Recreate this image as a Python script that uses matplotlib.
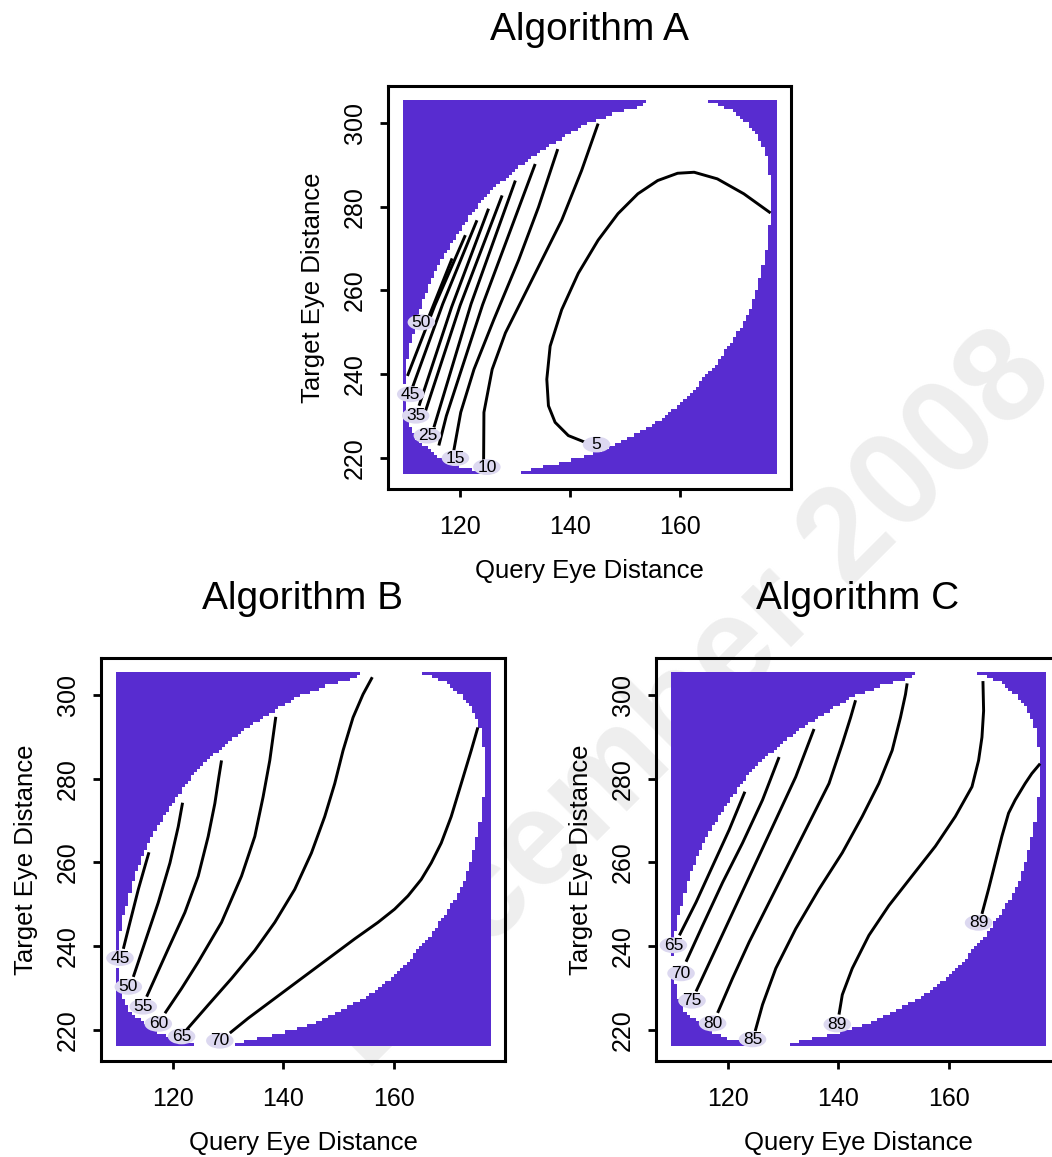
import numpy as np
import matplotlib
matplotlib.use("Agg")
import matplotlib.pyplot as plt
from matplotlib.colors import ListedColormap
from matplotlib.patches import Ellipse
from matplotlib.path import Path

plt.rcParams['font.family'] = ['Liberation Sans', 'DejaVu Sans']

PURPLE = '#582cd0'
LABEL_BG = '#dcd8f0'

# range of the fitted surface (same grid for all three algorithms)
x_range = [109.6, 177.5]
y_range = [216.1, 305.3]

# outline of the region that has data (drawn white)
region_x = [164.4, 154.1, 152.3, 148.1, 143.3, 139.6, 136.0, 132.4, 128.8, 125.1,
            122.1, 119.7, 117.3, 115.5, 113.7, 112.4, 111.5, 110.3, 109.7, 109.5,
            110.0, 110.6, 111.8, 113.7, 116.1, 119.1, 122.7, 125.7, 130.0, 133.0,
            137.8, 142.1, 146.9, 151.7, 156.0, 159.6, 163.2, 166.8, 169.8, 172.3,
            174.1, 175.3, 176.1, 176.6, 176.6, 175.9, 174.7, 172.3, 169.8, 166.8]
region_y = [305.8, 305.8, 303.7, 302.5, 300.2, 297.4, 294.6, 291.5, 287.5, 283.6,
            278.8, 274.1, 269.4, 264.6, 259.9, 255.2, 250.4, 244.9, 239.4, 235.4,
            231.5, 227.5, 224.3, 222.0, 219.6, 217.9, 216.4, 215.6, 215.6, 217.1,
            218.4, 219.6, 222.0, 225.1, 228.3, 232.2, 237.0, 242.5, 248.0, 253.6,
            259.9, 266.2, 272.5, 278.8, 285.2, 291.5, 296.2, 300.2, 302.9, 304.5]

# contour lines: level -> (x values, y values)
lines_a = {
    50: ([113.9, 114.34, 118.55], [252.4, 253.81, 267.66]),
    45: ([110.42, 115.4, 120.96], [239.56, 256.39, 273.21]),
    40: ([111.33, 116.85, 123.07], [236.79, 256.78, 276.77]),
    35: ([112.53, 118.45, 125.18], [232.43, 255.99, 279.54]),
    30: ([113.43, 120.0, 127.65], [230.06, 256.39, 282.71]),
    25: ([115.24, 122.0, 130.06], [227.28, 256.78, 286.27]),
    20: ([116.14, 117.5, 124.1, 133.67], [222.93, 230.0, 256.58, 290.23]),
    15: ([118.86, 120.12, 122.53, 126.14, 130.66, 134.28, 137.77],
         [221.74, 230.85, 241.14, 253.02, 267.27, 279.94, 293.79]),
    10: ([124.28, 124.34, 125.84, 128.25, 130.66, 134.28, 138.49, 142.11, 145.12],
         [218.97, 230.85, 241.14, 249.85, 256.18, 265.69, 276.77, 288.65, 299.89]),
    5: ([176.5, 171.63, 166.81, 162.59, 159.58, 155.96, 152.35, 148.73, 145.12,
         141.51, 138.49, 136.39, 135.78, 136.08, 137.29, 139.70, 142.71, 146.93],
        [278.51, 283.10, 286.67, 288.25, 288.01, 286.27, 283.10, 278.35, 272.02,
         264.10, 255.39, 246.68, 238.76, 232.43, 228.47, 225.30, 223.72, 222.93]),
}
labels_a = [('50', 112.95, 252.38), ('45', 111.02, 235.2), ('35', 111.93, 230.06),
            ('25', 114.04, 225.3), ('15', 119.16, 219.92), ('10', 124.88, 217.78),
            ('5', 144.82, 223.17)]

lines_b = {
    45: ([110.94, 112.14, 113.66, 114.86, 115.59],
         [239.35, 245.67, 253.57, 259.10, 262.42]),
    50: ([112.75, 114.86, 117.28, 119.40, 120.91, 121.69],
         [232.64, 240.93, 250.41, 259.89, 268.58, 274.27]),
    55: ([115.17, 119.09, 122.11, 124.53, 126.34, 127.55, 128.28, 128.76],
         [227.90, 239.35, 248.04, 256.73, 266.21, 274.11, 280.43, 284.38]),
    60: ([118.49, 121.51, 124.53, 128.76, 132.39, 134.80, 136.31, 137.52, 138.61],
         [223.95, 229.87, 236.19, 245.67, 256.73, 266.21, 275.69, 284.38, 294.80]),
    65: ([122.42, 126.34, 130.57, 134.80, 138.43, 142.05, 145.08, 147.49, 149.31,
          150.82, 152.63, 154.44, 156.13],
         [220.00, 225.92, 232.24, 238.96, 245.67, 253.57, 262.26, 270.95, 278.85,
          286.75, 294.64, 300.17, 304.28]),
    70: ([130.27, 133.60, 138.43, 143.26, 148.10, 152.93, 157.16, 160.18, 162.60,
          165.02, 166.83, 168.64, 170.45, 172.27, 174.08, 175.29],
         [219.21, 222.76, 227.50, 232.24, 236.98, 241.72, 245.67, 248.83, 251.99,
          255.94, 259.89, 264.63, 270.95, 278.85, 286.75, 292.27]),
}
labels_b = [('45', 110.33, 237.14), ('50', 111.84, 230.27), ('55', 114.56, 225.53),
            ('60', 117.28, 221.42), ('65', 121.51, 218.42), ('70', 128.46, 217.39)]

lines_c = {
    65: ([111.13, 114.15, 117.16, 120.18, 123.02],
         [242.57, 250.47, 259.15, 267.83, 276.91]),
    70: ([112.34, 115.35, 118.97, 122.60, 126.22, 129.23],
         [236.26, 244.94, 255.20, 264.67, 274.93, 285.19]),
    75: ([114.15, 117.77, 121.39, 125.01, 128.63, 132.25, 135.57],
         [229.16, 239.42, 249.68, 259.94, 270.20, 280.46, 291.90]),
    80: ([118.07, 120.78, 123.80, 127.42, 131.04, 134.67, 138.29, 140.70, 142.21, 143.11],
         [224.03, 232.31, 240.99, 250.47, 259.94, 269.41, 278.88, 288.35, 294.66, 298.77]),
    85: ([124.89, 126.22, 128.63, 132.25, 136.48, 140.70, 144.32, 147.34, 149.75,
          151.26, 152.17, 152.47],
         [219.68, 226.00, 234.68, 244.15, 253.62, 262.31, 270.99, 278.88, 286.77,
          294.66, 300.19, 302.80]),
    89: ([140.10, 140.70, 142.51, 145.53, 149.15, 153.37, 157.60, 161.22, 164.24,
          165.44, 166.05, 166.35, 166.23],
         [223.63, 228.37, 234.68, 242.57, 249.68, 256.78, 263.88, 270.99, 278.09,
          284.40, 289.93, 296.24, 303.35]),
    '89b': ([166.05, 167.25, 168.46, 169.67, 170.88, 172.08, 173.89, 175.10, 176.61],
            [247.70, 253.62, 259.94, 266.25, 271.78, 274.93, 278.88, 281.25, 283.62]),
}
labels_c = [('65', 110.04, 240.21), ('70', 111.43, 233.50), ('75', 113.42, 226.95),
            ('80', 117.16, 221.50), ('85', 124.41, 217.71), ('89', 139.79, 221.26),
            ('89', 165.44, 245.57)]

x_ticks = [120, 140, 160]
y_ticks = [220, 240, 260, 280, 300]

W, H = 1052, 1157
fig = plt.figure(figsize=(W / 100, H / 100), dpi=100)

fig.text(1.0057, 0.6716, 'December 2008', rotation=45, rotation_mode='anchor',
         ha='right', va='baseline', fontsize=96, fontweight='bold',
         color='#eeeeee', zorder=-5)

# mask of the data region on a coarse grid, like the raster in the original
gx = np.linspace(x_range[0], x_range[1], 120)
gy = np.linspace(y_range[0], y_range[1], 120)
GX, GY = np.meshgrid(gx, gy)
region = Path(np.column_stack([region_x, region_y]))
inside = region.contains_points(np.column_stack([GX.ravel(), GY.ravel()])).reshape(GY.shape)


def panel(rect, title, lines, labels, title_pad):
    ax = fig.add_axes(rect)
    ax.set_facecolor('none')
    ax.imshow(inside.astype(float), extent=[x_range[0], x_range[1], y_range[0], y_range[1]],
              origin='lower', cmap=ListedColormap([PURPLE, 'white']), vmin=0, vmax=1,
              interpolation='nearest', aspect='auto', zorder=1)
    for lvl, (xs, ys) in lines.items():
        ax.plot(xs, ys, color='black', lw=2.1, solid_capstyle='butt',
                solid_joinstyle='round', zorder=2)
    for txt, lx, ly in labels:
        ax.add_patch(Ellipse((lx, ly), 5.0, 3.8, fc=LABEL_BG, ec='none', zorder=3))
        ax.text(lx, ly, txt, fontsize=12.5, ha='center', va='center', zorder=4)
    dx = 0.04 * (x_range[1] - x_range[0])
    dy = 0.04 * (y_range[1] - y_range[0])
    ax.set_xlim(x_range[0] - dx, x_range[1] + dx)
    ax.set_ylim(y_range[0] - dy, y_range[1] + dy)
    ax.set_xticks(x_ticks)
    ax.set_yticks(y_ticks)
    for s in ax.spines.values():
        s.set_linewidth(2.2)
    ax.tick_params(axis='both', direction='out', length=6, width=2, labelsize=18)
    ax.tick_params(axis='x', pad=13)
    ax.tick_params(axis='y', pad=9, labelrotation=90)
    for t in ax.get_yticklabels():
        t.set_va('center')
    ax.set_xlabel('Query Eye Distance', fontsize=18.5, labelpad=14)
    ax.set_ylabel('Target Eye Distance', fontsize=18.5, labelpad=13)
    ax.set_title(title, fontsize=28, pad=title_pad)
    return ax


panel([388 / W, 1 - 489 / H, 403 / W, 403 / H], 'Algorithm A', lines_a, labels_a, 33)
panel([101 / W, 1 - 1061 / H, 404 / W, 403 / H], 'Algorithm B', lines_b, labels_b, 35)
panel([656 / W, 1 - 1061 / H, 404 / W, 403 / H], 'Algorithm C', lines_c, labels_c, 35)

fig.savefig('out.png', dpi=100)
